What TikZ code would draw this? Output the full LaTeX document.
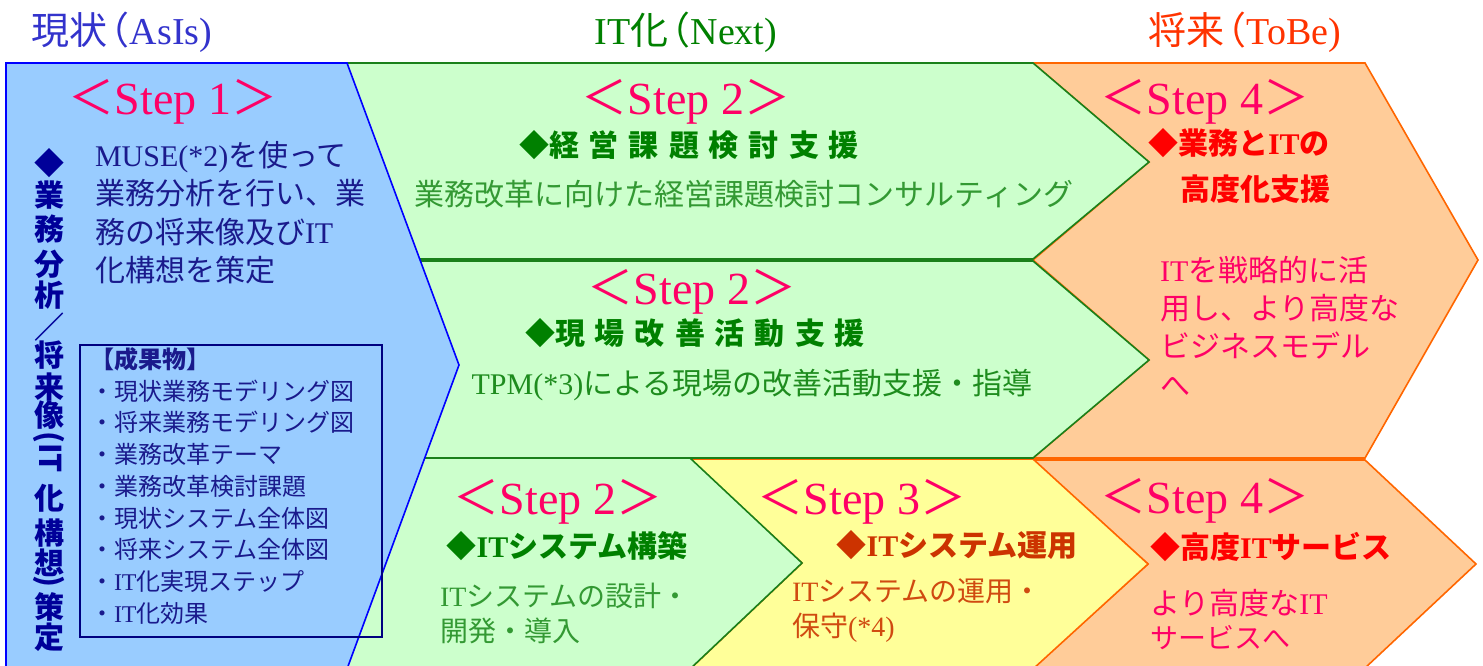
\documentclass[tikz,border=0pt]{standalone}
\usepackage{fontspec}
\setmainfont{Liberation Serif}
\newfontfamily\cjkfont{Noto Sans CJK JP}
\newcount\cjkc
\newcommand\setcjkrange[2]{\cjkc=#1\relax\loop\XeTeXcharclass\cjkc=7\relax\ifnum\cjkc<#2\relax\advance\cjkc by 1\relax\repeat}
\setcjkrange{"3000}{"30FF}
\setcjkrange{"4E00}{"9FFF}
\setcjkrange{"FF00}{"FFEF}
\XeTeXcharclass"25C6=7\relax
\XeTeXinterchartoks 0 7 = {\cjkfont}
\XeTeXinterchartoks 4095 7 = {\cjkfont}
\XeTeXinterchartoks 7 0 = {\rmfamily}
\XeTeXinterchartoks 7 4095 = {\rmfamily}
\XeTeXinterchartokenstate=1
\definecolor{bluefill}{HTML}{99CCFF}
\definecolor{blueline}{HTML}{0000FF}
\definecolor{greenfill}{HTML}{CCFFCC}
\definecolor{greenline}{HTML}{1A801A}
\definecolor{orangefill}{HTML}{FFCC99}
\definecolor{orangeline}{HTML}{FF6600}
\definecolor{yellowfill}{HTML}{FFFF99}
\definecolor{stepc}{HTML}{FF0066}
\definecolor{hblue}{HTML}{3333CC}
\definecolor{hgreen}{HTML}{008000}
\definecolor{hred}{HTML}{FF3300}
\definecolor{vtxt}{HTML}{000099}
\definecolor{bodyblue}{HTML}{1A1A8C}
\definecolor{boxline}{HTML}{000080}
\definecolor{bodygreen}{HTML}{339933}
\definecolor{midgreen}{HTML}{1E8C1E}
\definecolor{brownred}{HTML}{CC3300}
\definecolor{brownbody}{HTML}{D04A10}
\definecolor{redc}{HTML}{FF0000}
\newcommand\lsp{\hspace{10pt}}
\newcommand\pk{\kern-16pt}
\begin{document}
\begin{tikzpicture}[x=1pt,y=-1pt,
  every node/.style={inner sep=0pt, outer sep=0pt},
  shp/.style={line width=1.6pt, line join=miter},
  hdr/.style={font=\fontsize{38}{42}\selectfont},
  steplbl/.style={text=stepc, font=\fontsize{46}{50}\selectfont, anchor=base},
  body/.style={font=\fontsize{30}{38.3}\selectfont, align=left},
  bodyS/.style={font=\fontsize{28}{35}\selectfont, align=left},
  hd/.style={font=\bfseries\fontsize{30}{36}\selectfont},
  vert/.style={text=vtxt, font=\bfseries\fontsize{30}{30}\selectfont\cjkfont}]
\useasboundingbox (0,0) rectangle (1483,666);
% shapes
\path[shp, fill=orangefill, draw=orangeline] (1033,63) -- (1365,63) -- (1478,260) -- (1365,458) -- (1033,458) -- (1149,360) -- (1033,260) -- (1149,162) -- cycle;
\path[shp, fill=orangefill, draw=orangeline] (1033,460) -- (1365,460) -- (1476,564) -- (1365,668) -- (1033,668) -- (1148,564) -- cycle;
\path[shp, fill=yellowfill, draw=orangeline] (690,459) -- (1033,459) -- (1148,564) -- (1033,669) -- (690,669) -- (802,563) -- cycle;
\path[shp, fill=greenfill, draw=greenline] (330,458) -- (690,458) -- (802,563) -- (690,669) -- (330,669) -- cycle;
\path[shp, fill=greenfill, draw=greenline] (330,261) -- (1033,261) -- (1149,360) -- (1033,458) -- (330,458) -- cycle;
\path[shp, fill=greenfill, draw=greenline] (330,63) -- (1033,63) -- (1149,162) -- (1033,259) -- (330,259) -- cycle;
\path[shp, fill=bluefill, draw=blueline] (6,63) -- (347,63) -- (459,365) -- (347,669) -- (6,669) -- cycle;
% headers
\node[hdr, text=hblue] (hAs) at (122,32) {現状\pk（AsIs)};
\node[hdr, text=hgreen] (hNext) at (686,32) {IT化\pk（Next)};
\node[hdr, text=hred] (hTo) at (1245,32) {将来\pk（ToBe)};
% step labels
\node[steplbl] (s1) at (173,115) {＜Step 1＞};
\node[steplbl] (s2a) at (686,115) {＜Step 2＞};
\node[steplbl] (s4a) at (1205,115) {＜Step 4＞};
\node[steplbl] (s2b) at (692,304) {＜Step 2＞};
\node[steplbl] (s2c) at (558,514) {＜Step 2＞};
\node[steplbl] (s3) at (862,514) {＜Step 3＞};
\node[steplbl] (s4b) at (1205,513) {＜Step 4＞};
% step 1 column
\node[body, text=bodyblue, anchor=west] (muse) at (95,212.5) {MUSE(*2)を使って\\業務分析を行い、業\\務の将来像及びIT\\化構想を策定};
\foreach \ch/\yy [count=\i] in {◆/163,業/195,務/229,分/264,析/295,／/327,将/355,来/387,像/415,化/498,構/533,想/563,策/607,定/637}
  \node[vert] (v\i) at (49,\yy) {\ch};
\node[vert] (vIT) at (49,452) {\rotatebox{-90}{(IT}};
\node[vert] (vcl) at (49,581) {\rotatebox{-90}{)}};
\node[draw=boxline, line width=1.5pt, minimum width=302, minimum height=292] (deliv) at (231,491) {};
\node[anchor=west, text=bodyblue, font=\fontsize{24}{31.75}\selectfont, align=left] (dl) at (90,486) {{\bfseries 【成果物】}\\・現状業務モデリング図\\・将来業務モデリング図\\・業務改革テーマ\\・業務改革検討課題\\・現状システム全体図\\・将来システム全体図\\・IT化実現ステップ\\・IT化効果};
% step 2 top
\node[hd, text=hgreen] (g1h) at (689,145) {◆経\lsp 営\lsp 課\lsp 題\lsp 検\lsp 討\lsp 支\lsp 援};
\node[body, text=bodygreen] (g1b) at (744,194) {業務改革に向けた経営課題検討コンサルティング};
% step 2 middle
\node[hd, text=hgreen] (g2h) at (695,333) {◆現\lsp 場\lsp 改\lsp 善\lsp 活\lsp 動\lsp 支\lsp 援};
\node[body, text=midgreen] (g2b) at (752,385) {TPM(*3)による現場の改善活動支援・指導};
% step 2 bottom
\node[hd, text=hgreen] (g3h) at (567,546) {◆ITシステム構築};
\node[bodyS, text=bodygreen, anchor=west] (g3b) at (440,613.5) {ITシステムの設計・\\開発・導入};
% step 3
\node[hd, text=brownred] (y3h) at (957,545) {◆ITシステム運用};
\node[bodyS, text=brownbody, anchor=west] (y3b) at (792,611) {ITシステムの運用・\\保守(*4)};
% step 4 top
\node[hd, text=redc, anchor=west] (o1h) at (1148,143) {◆業務とITの};
\node[hd, text=redc, anchor=west] (o1h2) at (1180,189) {高度化支援};
\node[body, text=stepc, anchor=west] (o1b) at (1160,326) {ITを戦略的に活\\用し、より高度な\\ビジネスモデル\\へ};
% step 4 bottom
\node[hd, text=redc] (o2h) at (1271,547) {◆高度ITサービス};
\node[body, text=stepc, anchor=west] (o2b1) at (1150,603) {より高度なIT};
\node[bodyS, text=stepc, anchor=west] (o2b2) at (1150,638) {サービスへ};
\end{tikzpicture}
\end{document}
